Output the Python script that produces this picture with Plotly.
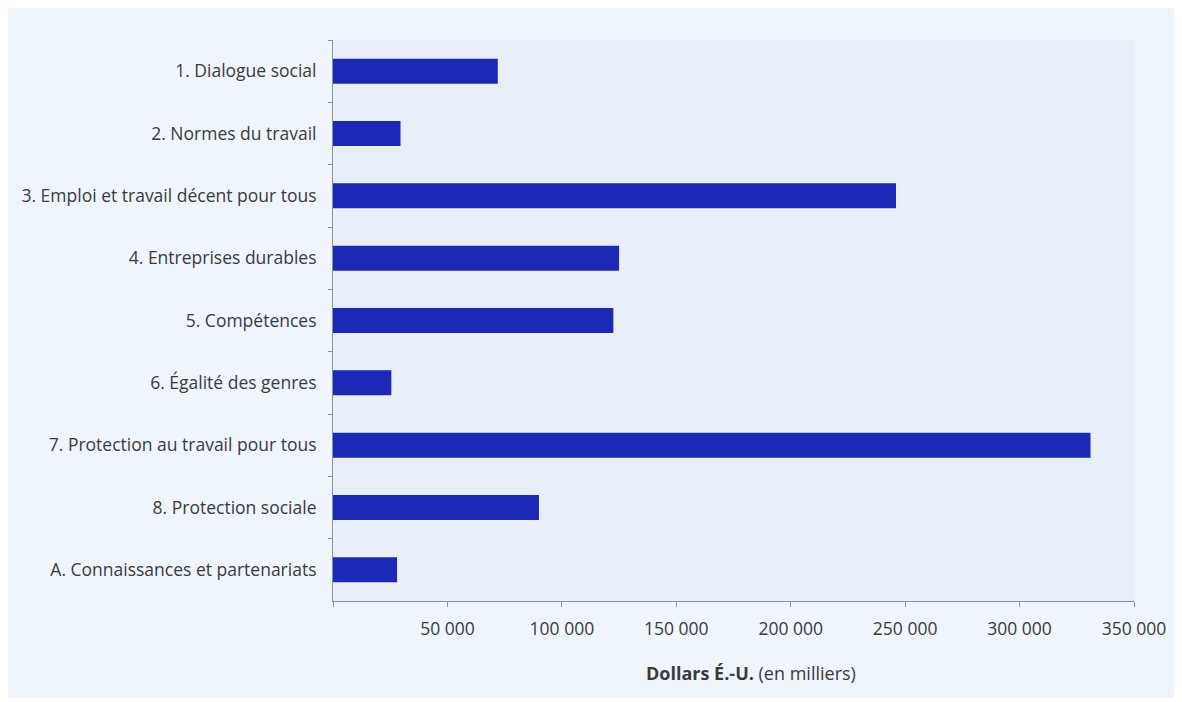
import plotly.graph_objects as go

categories = [
    "1. Dialogue social",
    "2. Normes du travail",
    "3. Emploi et travail décent pour tous",
    "4. Entreprises durables",
    "5. Compétences",
    "6. Égalité des genres",
    "7. Protection au travail pour tous",
    "8. Protection sociale",
    "A. Connaissances et partenariats",
]
values = [72000, 29500, 246000, 125000, 122500, 25500, 331000, 90000, 28000]
tick_vals = [0, 50000, 100000, 150000, 200000, 250000, 300000, 350000]
tick_text = ["", "50 000", "100 000", "150 000", "200 000", "250 000", "300 000", "350 000"]

W, H = 1172, 690
L, R, T, B = 325, 46, 32, 97

fig = go.Figure(go.Bar(
    x=values, y=categories, orientation="h",
    marker=dict(color="#1c29b6", line=dict(width=0)),
    width=0.4,
))

pw = W - L - R
ph = H - T - B
def px2x(p):
    return (p - L) / pw
def py2y(p):
    return 1 - (p - T) / ph

fig.add_shape(type="rect", xref="paper", yref="paper", layer="below",
              x0=0, x1=1, y0=0, y1=1,
              fillcolor="#e9eff8", line=dict(width=0))

fig.update_layout(
    width=W, height=H,
    margin=dict(l=L, r=R, t=T, b=B, pad=0),
    paper_bgcolor="#f0f5fc",
    plot_bgcolor="#e9eff8",
    font=dict(family="Open Sans", size=17.5, color="#3a3a3a"),
    showlegend=False,
    bargap=0.6,
    annotations=[dict(
        xref="paper", yref="paper",
        x=px2x(743), y=py2y(665),
        text="<b>Dollars É.-U.</b> (en milliers)",
        showarrow=False, font=dict(size=18, color="#3a3a3a"),
        xanchor="center", yanchor="middle",
    )],
)
fig.update_xaxes(
    range=[0, 350000], tickvals=tick_vals, ticktext=tick_text,
    showgrid=False, zeroline=False,
    showline=True, linecolor="#8a8f98", linewidth=1,
    ticks="outside", ticklen=5, tickcolor="#8a8f98",
    ticklabelstandoff=7,
    tickfont=dict(size=17.5, color="#3a3a3a"),
)
fig.update_yaxes(
    categoryorder="array", categoryarray=categories, autorange="reversed",
    showgrid=False, zeroline=False,
    showline=True, linecolor="#8a8f98", linewidth=1,
    ticks="outside", ticklen=4, tickcolor="#8a8f98",
    tickson="boundaries", ticklabelstandoff=12,
    tickfont=dict(size=17.5, color="#3a3a3a"),
)

fig.write_html("out.html")
